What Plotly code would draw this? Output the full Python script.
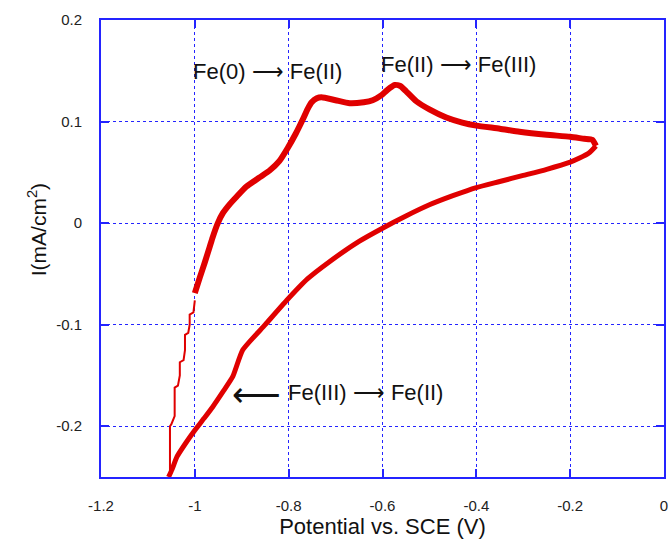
import plotly.graph_objects as go

# Anodic (forward) sweep, thick branch
anodic_v = [-1.000, -0.989, -0.979, -0.968, -0.962, -0.951, -0.94, -0.925, -0.911, -0.89, -0.862, -0.84,
            -0.82, -0.802, -0.785, -0.770, -0.760, -0.751, -0.740, -0.730, -0.70, -0.67, -0.64, -0.621,
            -0.602, -0.590, -0.574, -0.562, -0.55, -0.528, -0.50, -0.464, -0.43, -0.40,
            -0.35, -0.308, -0.25, -0.20, -0.17, -0.153, -0.145]
anodic_i = [-0.069, -0.053, -0.039, -0.023, -0.014, 0.000, 0.010, 0.019, 0.026, 0.036, 0.045, 0.052,
            0.061, 0.074, 0.088, 0.102, 0.112, 0.119, 0.123, 0.124, 0.121, 0.118, 0.119, 0.121,
            0.126, 0.131, 0.136, 0.135, 0.130, 0.120, 0.112, 0.104, 0.099, 0.096,
            0.093, 0.090, 0.087, 0.085, 0.083, 0.082, 0.076]

# Cathodic (reverse) sweep
cathodic_v = [-0.145, -0.16, -0.18, -0.20, -0.25, -0.30, -0.35, -0.40, -0.45, -0.50, -0.55, -0.60,
              -0.65, -0.713, -0.76, -0.804, -0.85, -0.898, -0.919, -0.94, -0.962, -0.98, -1.00,
              -1.02, -1.038, -1.049, -1.056]
cathodic_i = [0.076, 0.069, 0.064, 0.060, 0.053, 0.047, 0.041, 0.035, 0.027, 0.018, 0.007, -0.005,
              -0.018, -0.038, -0.055, -0.076, -0.100, -0.125, -0.151, -0.166, -0.181, -0.192, -0.204,
              -0.217, -0.230, -0.243, -0.25]

# Thin stepped trace at the cathodic limit
step_v = [-1.053, -1.053, -1.050, -1.043, -1.043, -1.036, -1.032, -1.032, -1.024, -1.021, -1.021,
          -1.014, -1.011, -1.011, -1.003, -1.000]
step_i = [-0.25, -0.200, -0.198, -0.190, -0.162, -0.160, -0.150, -0.137, -0.135, -0.125, -0.110,
          -0.108, -0.100, -0.090, -0.088, -0.076]

x_ticks = [-1.2, -1.0, -0.8, -0.6, -0.4, -0.2, 0]
x_labels = ["-1.2", "-1", "-0.8", "-0.6", "-0.4", "-0.2", "0"]
y_ticks = [-0.2, -0.1, 0, 0.1, 0.2]
y_labels = ["-0.2", "-0.1", "0", "0.1", "0.2"]

red = "#e00000"
blue = "#2424ff"
txt = "#111111"

fig = go.Figure()
fig.add_trace(go.Scatter(x=step_v, y=step_i, mode="lines",
                         line=dict(color=red, width=2), hoverinfo="skip"))
fig.add_trace(go.Scatter(x=anodic_v, y=anodic_i, mode="lines",
                         line=dict(color=red, width=6, shape="spline", smoothing=0.5)))
fig.add_trace(go.Scatter(x=cathodic_v, y=cathodic_i, mode="lines",
                         line=dict(color=red, width=5, shape="spline", smoothing=0.5)))

fig.update_layout(
    width=670, height=544,
    margin=dict(l=101, r=6, t=20, b=67, autoexpand=False),
    paper_bgcolor="white", plot_bgcolor="white",
    showlegend=False,
    font=dict(family="Liberation Sans, Arial, sans-serif", color="#222222"),
    xaxis=dict(range=[-1.2, 0], tickvals=x_ticks, ticktext=x_labels, automargin=False,
               showline=True, linecolor=blue, linewidth=2, mirror="ticks",
               ticks="inside", ticklen=8, tickcolor=blue, tickwidth=2,
               showgrid=True, gridcolor=blue, griddash="dot", gridwidth=1,
               zeroline=False, tickfont=dict(size=15), ticklabelstandoff=14,
               title=dict(text="Potential vs. SCE (V)", font=dict(size=22, color=txt), standoff=6)),
    yaxis=dict(range=[-0.25, 0.2], tickvals=y_ticks, ticktext=y_labels, automargin=False,
               showline=True, linecolor=blue, linewidth=2, mirror="ticks",
               ticks="inside", ticklen=8, tickcolor=blue, tickwidth=2,
               showgrid=True, gridcolor=blue, griddash="dot", gridwidth=1,
               zeroline=False, tickfont=dict(size=15), ticklabelstandoff=14),
    annotations=[
        dict(x=-0.1403, y=0.54, xref="paper", yref="paper", text="I(mA/cm<sup>2</sup>)",
             textangle=-90, showarrow=False, font=dict(size=21, color=txt)),
        dict(x=-0.845, y=0.149, xref="x", yref="y", text="Fe(0) ⟶ Fe(II)",
             showarrow=False, font=dict(size=22, color=txt)),
        dict(x=-0.438, y=0.156, xref="x", yref="y", text="Fe(II) ⟶ Fe(III)",
             showarrow=False, font=dict(size=22, color=txt)),
        dict(x=-0.636, y=-0.167, xref="x", yref="y", text="Fe(III) ⟶ Fe(II)",
             showarrow=False, font=dict(size=22, color=txt)),
        dict(x=-0.868, y=-0.168, xref="x", yref="y", text="⟵",
             showarrow=False, font=dict(size=34, color=txt)),
    ],
)

# Remove the browser's default 8px body margin so the figure fills the window exactly.
fig.write_html("out.html", config={"displayModeBar": False},
               post_script="document.body.style.margin='0';document.body.style.overflow='hidden';")
